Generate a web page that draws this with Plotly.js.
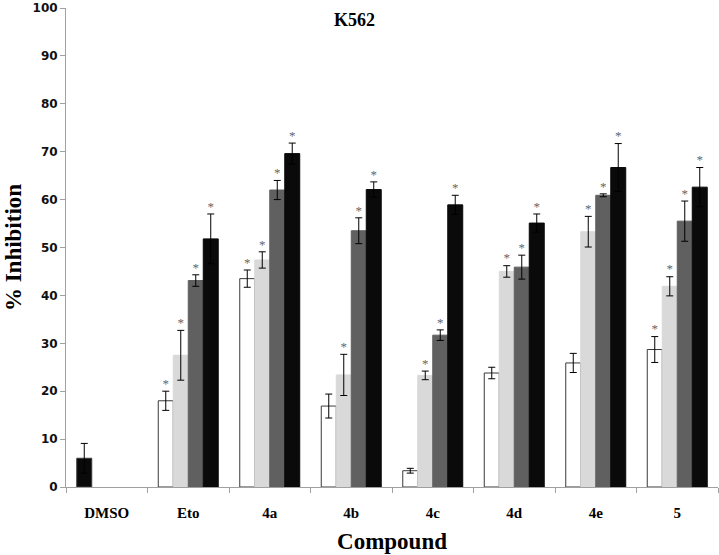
<!DOCTYPE html>
<html>
<head>
<meta charset="utf-8">
<script src="https://cdn.plot.ly/plotly-3.0.1.min.js"></script>
<style>
  html, body { margin: 0; padding: 0; background: #fff; }
  #plot { width: 719px; height: 555px; }
</style>
</head>
<body>
<div id="plot"></div>
<script>
const compounds = ["DMSO", "Eto", "4a", "4b", "4c", "4d", "4e", "5"];

// four bars per compound (white, light grey, dark grey, black); DMSO only has one
const s1 = [6.0, 18.0, 43.5, 16.9, 3.4, 23.8, 25.9, 28.7];
const s1Err = [3.1, 2.0, 1.8, 2.5, 0.5, 1.2, 2.0, 2.7];
const s2 = [null, 27.5, 47.4, 23.4, 23.3, 45.0, 53.3, 41.9];
const s2Err = [0, 5.2, 1.7, 4.3, 0.9, 1.2, 3.2, 2.0];
const s3 = [null, 43.1, 62.0, 53.5, 31.7, 45.9, 60.9, 55.5];
const s3Err = [0, 1.2, 2.0, 2.7, 1.1, 2.5, 0.3, 4.2];
const s4 = [null, 51.8, 69.6, 62.1, 58.9, 55.1, 66.7, 62.6];
const s4Err = [0, 5.2, 2.2, 1.6, 2.0, 1.9, 5.0, 4.1];

// significance marks (*)
const s1Star = [false, true, true, false, false, false, false, true];
const s2Star = [false, true, true, true, true, true, true, true];
const s3Star = [false, true, true, true, true, true, true, true];
const s4Star = [false, true, true, true, true, true, true, true];

const yTicks = [0, 10, 20, 30, 40, 50, 60, 70, 80, 90, 100];

const xIdx = compounds.map((c, i) => i);
const bargap = 0.264;
const barW = (1 - bargap) / 4;

const series = [
  {y: s1, err: s1Err, star: s1Star, color: s1.map((v, i) => i === 0 ? "#0a0a0a" : "#ffffff"), line: "#3a3a3a"},
  {y: s2, err: s2Err, star: s2Star, color: "#d9d9d9", line: "#d9d9d9"},
  {y: s3, err: s3Err, star: s3Star, color: "#606060", line: "#606060"},
  {y: s4, err: s4Err, star: s4Star, color: "#0a0a0a", line: "#0a0a0a"}
];

const data = [];
series.forEach((s, k) => {
  data.push({
    type: "bar",
    x: xIdx,
    y: s.y,
    name: "series " + (k + 1),
    marker: {color: s.color, line: {color: s.line, width: 1}},
    error_y: {type: "data", array: s.err, visible: true, color: "#000", thickness: 1, width: 3.5},
    hoverinfo: "skip"
  });
});

// stars above the error bars
series.forEach((s, k) => {
  const xs = [], ys = [];
  s.star.forEach((on, i) => {
    if (!on) return;
    xs.push(i + (k - 1.5) * barW);
    ys.push(s.y[i] + s.err[i]);
  });
  data.push({
    type: "scatter",
    mode: "text",
    x: xs,
    y: ys,
    text: xs.map(() => "*"),
    textposition: "top center",
    textfont: {family: "Liberation Serif", size: 13, color: "#666"},
    cliponaxis: false,
    hoverinfo: "skip",
    showlegend: false
  });
});

const boundaries = compounds.map((c, i) => i - 0.5).concat([compounds.length - 0.5]);

const layout = {
  width: 719,
  height: 555,
  margin: {l: 66, r: 1, t: 8, b: 68},
  paper_bgcolor: "#fff",
  plot_bgcolor: "#fff",
  barmode: "group",
  bargap: bargap,
  bargroupgap: 0,
  showlegend: false,
  xaxis: {
    range: [-0.5, compounds.length - 0.5],
    tickvals: xIdx,
    ticktext: compounds,
    ticks: "",
    ticklabelstandoff: 12,
    tickfont: {family: "Liberation Serif", size: 15, color: "#000", weight: "bold"},
    showline: true,
    linecolor: "#a0a0a0",
    linewidth: 1,
    showgrid: false,
    zeroline: false,
    minor: {tickvals: boundaries, ticks: "outside", ticklen: 5, tickcolor: "#a0a0a0", showgrid: false},
    title: {text: "Compound", font: {family: "Liberation Serif", size: 23, color: "#000", weight: "bold"}, standoff: 12}
  },
  yaxis: {
    range: [0, 100],
    tickvals: yTicks,
    ticks: "outside",
    ticklen: 5,
    tickcolor: "#a0a0a0",
    tickfont: {family: "DejaVu Sans", size: 12, color: "#111", weight: "bold"},
    showline: true,
    linecolor: "#a0a0a0",
    linewidth: 1,
    showgrid: false,
    zeroline: false,
    title: {text: "% Inhibition", font: {family: "Liberation Serif", size: 23, color: "#000", weight: "bold"}, standoff: 4}
  },
  annotations: [{
    text: "K562",
    xref: "paper", yref: "paper",
    x: 0.443, y: 0.975,
    xanchor: "center", yanchor: "middle",
    showarrow: false,
    font: {family: "Liberation Serif", size: 18, color: "#000", weight: "bold"}
  }]
};

Plotly.newPlot("plot", data, layout, {staticPlot: true});
</script>
</body>
</html>
